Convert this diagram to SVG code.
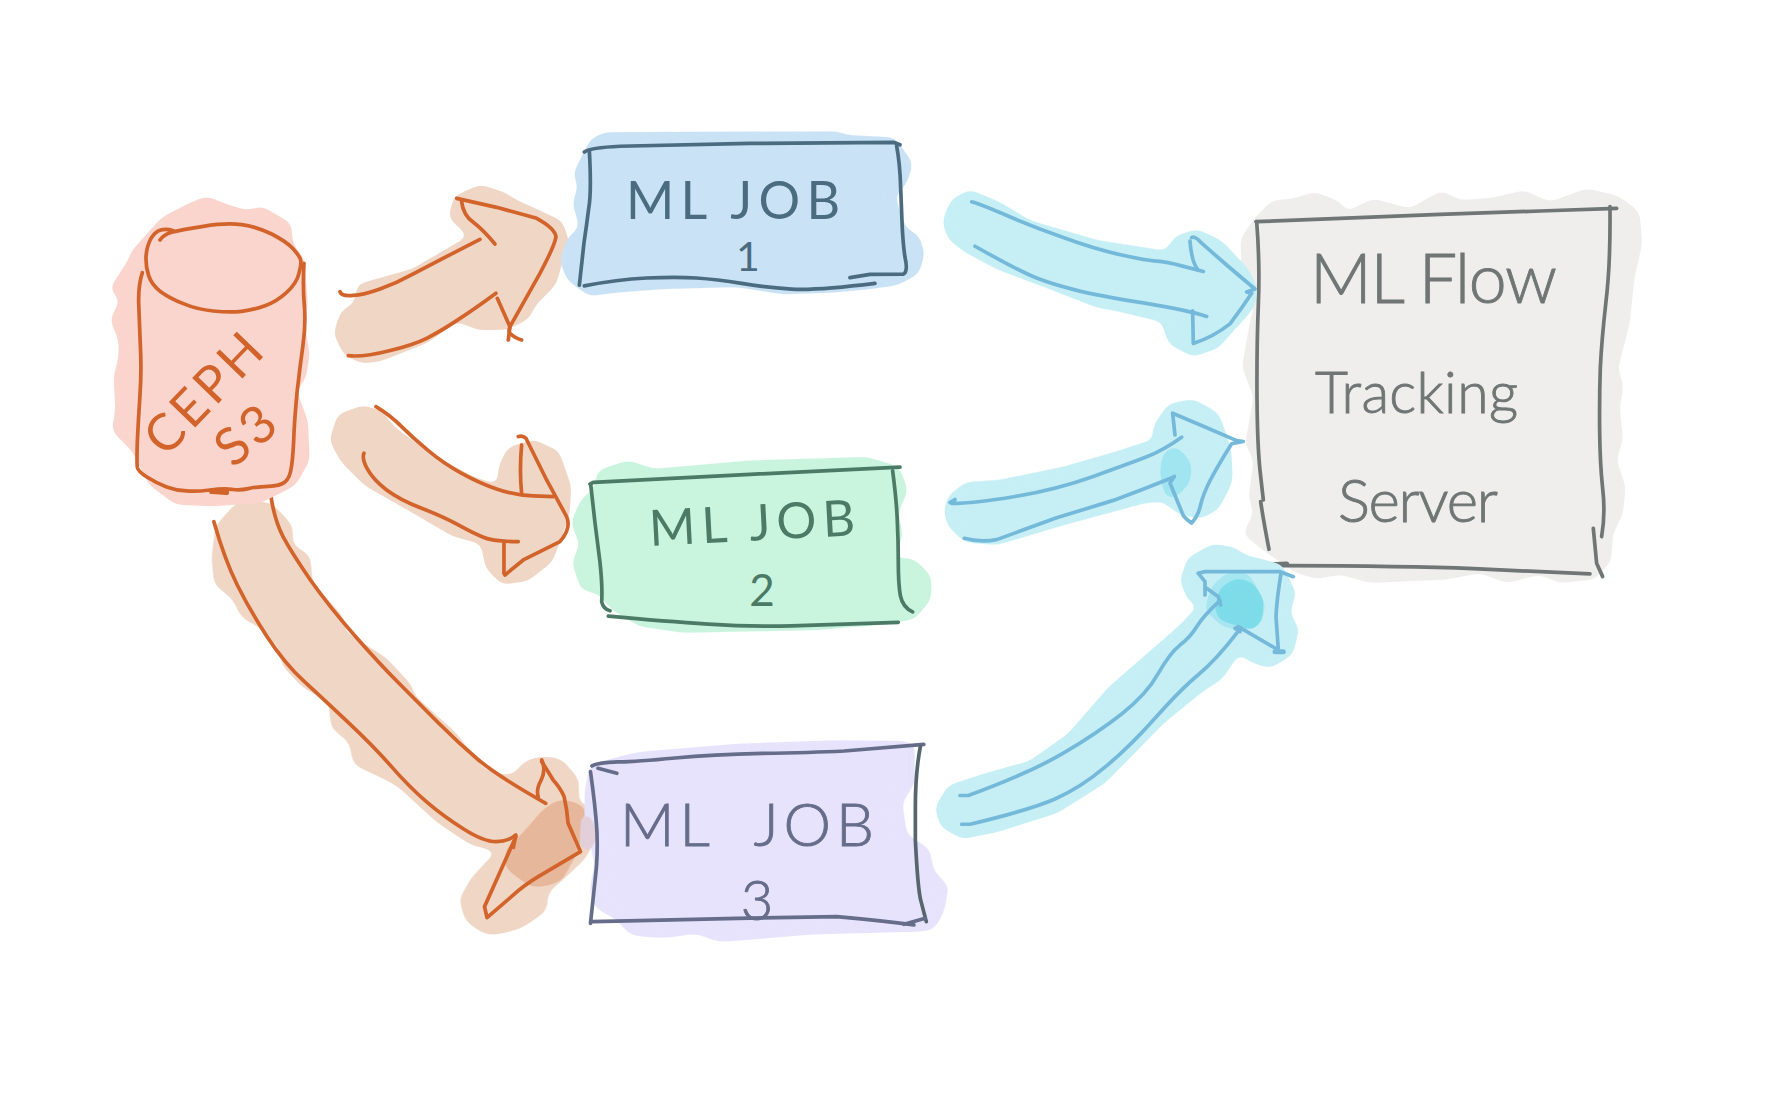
<svg xmlns="http://www.w3.org/2000/svg" width="1785" height="1102" viewBox="0 0 1785 1102">
<style>
path{vector-effect:non-scaling-stroke;stroke-linecap:round;stroke-linejoin:round}
.l{fill:none;stroke-width:3.7}
.b{stroke-width:5;filter:url(#soft)}
.o{fill:#f0d6c5;stroke:#f0d6c5}
.c{fill:#c6eff5;stroke:#c6eff5}
.ol{stroke:#d2632a}
.cl{stroke:#75b9da}
text{font-family:"Lato","Open Sans",sans-serif}
.tb{fill:#4b6c80}.tg{fill:#4b7a66}.to{fill:#d2632a}
.tp{fill:#666d8a;stroke:#666d8a;stroke-width:.9;font-weight:300}
.ta{fill:#6f7675;stroke:#6f7675;stroke-width:.9;font-weight:300}
</style>
<defs>
<filter id="soft" x="-10%" y="-10%" width="120%" height="120%" color-interpolation-filters="sRGB">
<feGaussianBlur stdDeviation="15"/>
<feComponentTransfer><feFuncA type="linear" slope="12" intercept="-5"/></feComponentTransfer>
</filter>
<filter id="softer" x="-10%" y="-10%" width="120%" height="120%" color-interpolation-filters="sRGB">
<feGaussianBlur stdDeviation="5"/>
<feComponentTransfer><feFuncA type="linear" slope="12" intercept="-5"/></feComponentTransfer>
</filter>
</defs>
<rect width="1785" height="1102" fill="#ffffff"/>
<g id="server">
<g transform="translate(1240 180) scale(.3333)">
<path class="b" fill="#efeeec" stroke="#efeeec" d="M100 70L160 65L225 45L290 70L320 105L400 65L510 95L605 42L660 70L760 62L850 40L930 75L1040 35L1130 55L1190 100L1198 190L1175 290L1160 430L1125 565L1142 620L1130 680L1140 780L1120 840L1148 920L1140 1000L1110 1060L1105 1140L1060 1190L960 1200L900 1175L800 1200L720 1170L620 1190L500 1195L390 1200L300 1175L230 1188L170 1170L70 1100L20 1060L50 1000L35 950L50 840L25 790L50 650L15 560L40 420L50 385L40 330L15 300L10 180L50 120Z"/>
<g stroke="#6f7675">
<path class="l" d="M48 125L300 115L600 103L900 93L1130 85"/>
<path class="l" d="M50 125Q60 250 55 375Q50 500 51 650Q52 800 61 880L70 960M62 965Q70 1020 87 1108"/>
<path class="l" d="M130 1157Q500 1158 700 1166L1050 1182"/>
<path class="l" style="stroke-width:5" d="M75 1155L140 1152"/>
<path class="l" d="M1110 80Q1112 250 1098 365Q1085 480 1081 565Q1078 650 1079 750Q1080 850 1088 925Q1097 1000 1085 1070"/>
<path class="l" d="M1060 1045L1070 1150L1088 1190"/>
</g>
</g>
<text class="ta" x="1310" y="303" font-size="68" textLength="247">ML Flow</text>
<text class="ta" x="1315" y="413" font-size="57" textLength="203">Tracking</text>
<text class="ta" x="1338" y="522" font-size="60" textLength="160">Server</text>
</g>
<g id="connectors">
<g id="arrow-s3-job1" transform="translate(80 120) scale(.3333)">
<path class="o b" d="M840 500L1000 455L1180 350L1115 290L1130 235L1200 203L1270 225L1300 245L1370 277L1440 310L1460 370L1440 420L1420 490L1360 550L1340 590L1280 620L1200 622L1130 595L1040 660L900 715L850 722L800 700L770 640L790 580L830 555Z"/>
<g class="ol">
<path class="l" d="M780 515Q785 530 820 526Q850 525 900 507Q950 490 1000 462Q1050 435 1200 358"/>
<path class="l" d="M1245 372Q1210 330 1180 307Q1150 285 1145 245"/>
<path class="l" d="M1130 235L1250 262L1370 295Q1425 325 1428 350Q1425 375 1380 460L1290 620Q1285 635 1290 640Q1305 655 1325 660"/>
<path class="l" d="M1252 535L1290 620L1285 660"/>
<path class="l" d="M805 707Q850 712 925 693Q1000 675 1040 655Q1080 635 1130 602Q1180 570 1248 520"/>
</g>
</g>
<g id="arrow-s3-job2" transform="translate(80 120) scale(.3333)">
<path class="o b" d="M850 865L900 880L940 930L1050 1010L1180 1080L1260 1105L1265 1040L1290 990L1360 968L1430 1000L1465 1100L1460 1180L1440 1240L1410 1320L1340 1375L1270 1385L1225 1340L1210 1265L1120 1240L1000 1170L860 1090L790 1020L758 960L780 890Z"/>
<g class="ol">
<path class="l" d="M888 860Q930 885 965 920Q1000 955 1045 992Q1090 1030 1145 1060Q1200 1090 1250 1107Q1300 1125 1360 1128L1420 1130"/>
<path class="l" d="M1325 975Q1318 1050 1325 1120"/>
<path class="l" d="M1315 950Q1328 945 1338 955L1400 1080L1460 1190Q1475 1225 1440 1265L1330 1320L1275 1365"/>
<path class="l" d="M1272 1270L1272 1360"/>
<path class="l" d="M852 1000Q845 1015 862 1047Q880 1080 920 1110Q960 1140 1025 1165Q1090 1190 1135 1215Q1180 1240 1210 1252Q1240 1265 1315 1265"/>
</g>
</g>
<g id="arrow-job1-server" transform="translate(930 180) scale(.3333 .4359)">
<path class="c b" d="M120 30L200 55L300 100L500 145L712 170L740 135L800 120L870 145L950 210L975 250L965 290L900 345L860 380L790 398L720 370L705 320L570 295L500 285L350 240L210 200L110 160L60 130L45 95L70 50Z"/>
<g class="cl">
<path class="l" d="M125 50Q135 50 217 77Q300 105 400 132Q500 160 575 172Q650 185 680 186Q710 187 755 197L820 210"/>
<path class="l" d="M780 140Q785 190 805 207"/>
<path class="l" d="M785 132Q795 128 815 145L890 195L975 250L950 257L965 260Q935 295 900 330Q850 360 790 375L788 300"/>
<path class="l" d="M135 152Q270 210 320 225Q370 240 435 252Q500 265 640 282Q780 300 830 313"/>
</g>
</g>
<g id="arrow-job2-server" transform="translate(930 180) scale(.3333 .4359)">
<path class="c b" d="M60 730L110 700L210 695L400 665L560 630L660 605L685 610L675 570L720 520L790 510L860 540L895 620L900 690L860 750L810 770L750 760L700 730L640 735L400 785L200 830L110 825L60 790L50 760Z"/>
<path class="b" fill="#a0e5f0" d="M700 625L740 612L785 650L780 695L730 730L705 725L690 670Z"/>
<g class="cl">
<path class="l" d="M60 740L75 733L65 742Q130 742 255 726Q380 710 490 680Q600 650 650 635Q700 620 755 590"/>
<path class="l" d="M735 585L728 535L820 565L920 598L940 600L905 605Q860 660 840 690Q820 720 812 745Q805 770 785 787Q770 780 760 770L720 695L733 680"/>
<path class="l" d="M103 822Q150 832 200 825Q290 800 380 775Q465 755 550 735Q640 710 730 682"/>
</g>
</g>
<g id="arrow-job3-server">
<path class="c" style="stroke-width:5;filter:url(#softer)" d="M938 808L950 788L990 775L1030 764L1070 736L1110 690L1150 655L1180 629L1203 605L1190 598L1183 580L1190 560L1213 547L1233 550L1245 558L1280 567L1293 593L1287 613L1296 630L1290 653L1270 665L1253 660L1238 650L1220 677L1200 690L1163 720L1103 781L1057 810L997 829L963 836L943 825Z"/>
<g transform="translate(1170 530) scale(.3333)">
<path class="b" fill="#a6e6f1" d="M105 240L125 170L170 130L235 130L285 220L275 280L220 300L160 290Z"/>
<path class="b" fill="#7edce9" d="M135 240L150 175L200 145L250 160L280 210L275 270L250 300L200 285L150 270Z"/>
<g class="cl">
<path class="l" d="M85 130L105 125L330 125L370 140"/>
<path class="l" d="M85 130L105 155L105 195"/>
<path class="l" d="M110 175L145 200L152 225"/>
<path class="l" d="M333 130Q320 210 318 260L325 360L205 290L195 295L210 305"/>
<path class="l" style="stroke-width:5" d="M340 365L315 365"/>
</g>
</g>
<g class="cl" transform="translate(930 180) scale(.3333 .4359)">
<path class="l" d="M90 1412L115 1412Q300 1360 400 1315Q500 1270 575 1225Q650 1180 685 1132Q720 1085 750 1067Q780 1050 800 1025Q820 1000 870 965"/>
<path class="l" d="M95 1478L120 1478Q300 1445 375 1420Q450 1395 525 1347Q600 1300 675 1235Q750 1170 805 1135Q860 1100 925 1035"/>
</g>
</g>
<g id="arrow-s3-job3" transform="translate(190 490) scale(.4975 .3333)">
<path class="o b" d="M100 40L160 45L200 110L200 170L235 200L240 280L305 390L305 430L390 510L440 590L445 620L530 735L590 850L650 870L670 830L690 810L740 810L775 870L775 940L810 970L810 1040L790 1100L740 1170L715 1200L710 1260L660 1310L600 1330L560 1290L548 1230L570 1170L630 1075L570 1060L500 990L420 880L380 850L335 820L325 750L290 710L285 630L230 585L190 520L185 470L140 400L110 380L90 320L55 280L50 200L58 110Z"/>
<path class="b" fill="#e6b79b" d="M745 925L795 950L780 1080L745 1175L690 1195L635 1135L635 1080L670 1030L710 960Z"/>
<g class="ol">
<path class="l" d="M163 22Q170 90 187 140Q205 190 242 270Q280 350 330 435Q380 520 420 580Q460 640 500 700Q540 760 580 810Q620 860 715 940"/>
<path class="l" d="M707 810Q716 840 706 870Q695 900 700 920"/>
<path class="l" d="M707 815Q720 845 730 870Q745 895 752 920Q758 960 760 1000L785 1085L700 1160Q672 1185 650 1215L597 1283L592 1250L655 1040"/>
<path class="l" d="M48 95Q70 210 95 285Q120 360 155 440Q190 520 230 575Q270 630 320 700Q370 770 405 830Q440 890 475 935Q510 980 550 1017Q590 1055 615 1055Q640 1055 655 1035L650 1072"/>
</g>
</g>
</g>
<g id="ceph-s3">
<g transform="translate(80 120) scale(.3333)">
<path class="b" fill="#fad5cd" stroke="#fad5cd" d="M380 238L440 262L500 280L545 268L625 315L630 375L665 420L675 560L660 590L680 700L670 770L640 810L675 905L680 1020L640 1090L540 1140L400 1150L290 1145L215 1090L165 990L105 930L115 870L110 770L125 710L125 660L100 600L130 540L100 505L155 420L160 400L250 300L330 258Z"/>
<g class="ol">
<path class="l" d="M240 360Q250 345 275 337Q300 330 370 319Q440 308 485 314Q530 320 575 342Q620 365 640 387Q660 410 662 420Q665 430 657 460Q650 490 620 517Q590 545 555 557Q520 570 485 574Q450 578 400 573Q350 568 310 551Q270 535 242 515Q215 495 206 467Q197 440 198 410Q200 380 212 357Q225 335 242 330Q260 325 280 332"/>
<path class="l" d="M187 458Q175 495 176 547Q178 600 181 675Q185 750 180 825Q175 900 172 965Q170 1030 172 1042Q175 1055 202 1072Q230 1090 260 1101Q290 1112 320 1113Q350 1115 390 1110Q430 1105 455 1108Q480 1112 505 1106Q530 1100 565 1099Q600 1098 615 1086Q630 1075 635 1037Q640 1000 642 940Q645 880 652 810Q660 740 669 675Q678 610 673 555Q668 500 672 430"/>
<path class="l" style="stroke-width:5" d="M395 1115L440 1118"/>
</g>
</g>
<text class="to" transform="translate(216 406) rotate(-46)" text-anchor="middle" font-size="51" textLength="145">CEPH</text>
<text class="to" transform="translate(257 449) rotate(-40)" text-anchor="middle" font-size="52" textLength="62">S3</text>
</g>
<g id="job-1">
<g transform="translate(550 110) scale(.3333 .359)">
<path class="b" fill="#c9e2f5" stroke="#c9e2f5" d="M170 70L860 68L890 78L1030 85L1080 150L1060 205L1025 235L1040 280L1060 335L1100 355L1115 400L1100 450L1040 480L960 490L850 500L700 505L560 485L340 490L200 500L120 510L60 470L38 420L60 360L100 330L76 260L95 210L78 180L110 120L130 85Z"/>
<g stroke="#4b6c80">
<path class="l" d="M103 117Q120 105 210 101L600 93L1030 90L1050 97"/>
<path class="l" d="M118 112Q125 230 116 275Q110 320 102 370L88 488"/>
<path class="l" d="M103 490Q200 472 290 468Q380 465 440 468Q500 472 575 483Q650 495 725 499Q800 503 975 483"/>
<path class="l" d="M1040 100Q1050 150 1052 215Q1055 280 1057 330Q1060 380 1065 410Q1075 450 1060 457L960 458L900 467"/>
</g>
</g>
<text class="tb" x="626" y="219" font-size="52" textLength="214">ML JOB</text>
<text class="tb" x="748" y="271" font-size="41" text-anchor="middle">1</text>
</g>
<g id="job-2">
<g transform="translate(550 110) scale(.3333 .359)">
<path class="b" fill="#c9f4de" stroke="#c9f4de" d="M150 1010L235 985L310 1008L600 985L950 975L1040 1000L1065 1060L1035 1120L1050 1190L1010 1252L1090 1260L1135 1300L1135 1360L1090 1410L1000 1425L800 1440L400 1448L270 1430L190 1385L150 1340L100 1330L75 1260L100 1210L72 1150L100 1090L140 1060Z"/>
<g stroke="#4b7a66">
<path class="l" d="M120 1042L130 1037L600 1015L1050 995"/>
<path class="l" d="M122 1042L135 1150L150 1260Q158 1330 155 1370Q160 1390 180 1395"/>
<path class="l" d="M175 1410Q350 1425 475 1432Q600 1440 725 1437L1045 1427"/>
<path class="l" d="M1028 1005Q1040 1090 1042 1145Q1045 1200 1045 1260Q1045 1320 1051 1352Q1058 1385 1088 1398"/>
</g>
</g>
<text class="tg" transform="translate(650 546) rotate(-3)" font-size="50" textLength="206">ML JOB</text>
<text class="tg" x="762" y="606" font-size="44" text-anchor="middle">2</text>
</g>
<g id="job-3">
<g transform="translate(190 490) scale(.4975 .3333)">
<path class="b" fill="#e7e3fc" stroke="#e7e3fc" d="M900 795L1100 770L1300 760L1450 762L1450 880L1425 935L1435 1040L1480 1080L1490 1150L1518 1190L1510 1260L1490 1315L1250 1325L1060 1348L1020 1320L960 1335L890 1330L860 1280L820 1250L810 1200L820 1120L800 1000L800 900L810 830Z"/>
<path class="b" fill="#e2cfd8" d="M785 960L805 970L818 1040L802 1095L785 1090Z"/>
<g stroke="#666d8a">
<path class="l" d="M808 828Q820 818 860 816Q900 815 975 804Q1050 793 1150 790Q1250 788 1315 783L1475 763"/>
<path class="l" d="M805 845Q815 950 818 1025Q820 1100 815 1160L805 1300"/>
<path class="l" d="M808 1295L880 1293L1100 1285L1300 1280Q1390 1292 1455 1305"/>
<path class="l" stroke="#56666c" d="M1468 770Q1458 850 1458 950L1458 1050Q1463 1200 1469 1232L1480 1295"/>
<path class="l" d="M1435 1303L1478 1285"/>
<path class="l" d="M820 835L858 850"/>
</g>
</g>
<text class="tp" x="620" y="846" font-size="60" textLength="254" xml:space="preserve">ML  JOB</text>
<text class="tp" x="757" y="920" font-size="56" text-anchor="middle">3</text>
</g>
</svg>
